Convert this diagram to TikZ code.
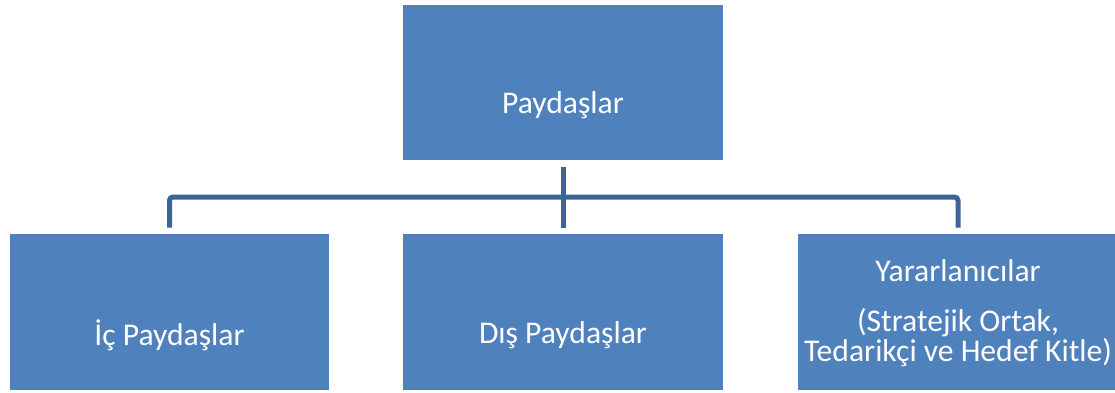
\documentclass[tikz,border=0pt]{standalone}
\usepackage{fontspec}
\setmainfont{Carlito}
\usepackage{tikz}
\definecolor{boxblue}{RGB}{79,129,189}
\definecolor{linkblue}{RGB}{60,100,152}
\tikzset{
	box/.style={fill=boxblue, minimum width=6.4cm, minimum height=3.12cm, inner sep=0pt},
	boxtext/.style={text=white, font=\fontsize{18}{18}\selectfont, anchor=base, inner sep=0pt},
	link/.style={draw=linkblue, line width=0.1cm, shorten <=0.12cm, shorten >=0.12cm}
}

\begin{document}
\begin{tikzpicture}[x=0.02cm, y=-0.02cm]
		%%%%% START %%%%%
		
		\fill[white] (0, 0) rectangle (1115, 392);
		\useasboundingbox (0, 0) rectangle (1115, 392);
		
		\node[box, label={[boxtext, yshift=-0.45cm]center:Paydaşlar}] (paydas) at (563, 82.5) {};
		
		\node[box, label={[boxtext, yshift=-0.46cm]center:İç Paydaşlar}] (icpaydas) at (169.5, 312) {};
		\node[box, label={[boxtext, yshift=-0.46cm]center:Dış Paydaşlar}] (dispaydas) at (563, 312) {};
		\node[box, label={[boxtext, anchor=center, align=center, font=\fontsize{18}{16}\selectfont, yshift=-0.02cm]center:{Yararlanıcılar\\[12.5pt](Stratejik Ortak,\\Tedarikçi ve Hedef Kitle)}}] (yarar) at (958, 312) {};
		
		\coordinate (hub) at (563, 197);
		\draw[link] (paydas.south) -- (dispaydas.north);
		\draw[link, rounded corners=2pt] (icpaydas.north) |- (hub) -| (yarar.north);
		
		%%%%% END %%%%%
\end{tikzpicture}
\end{document}
